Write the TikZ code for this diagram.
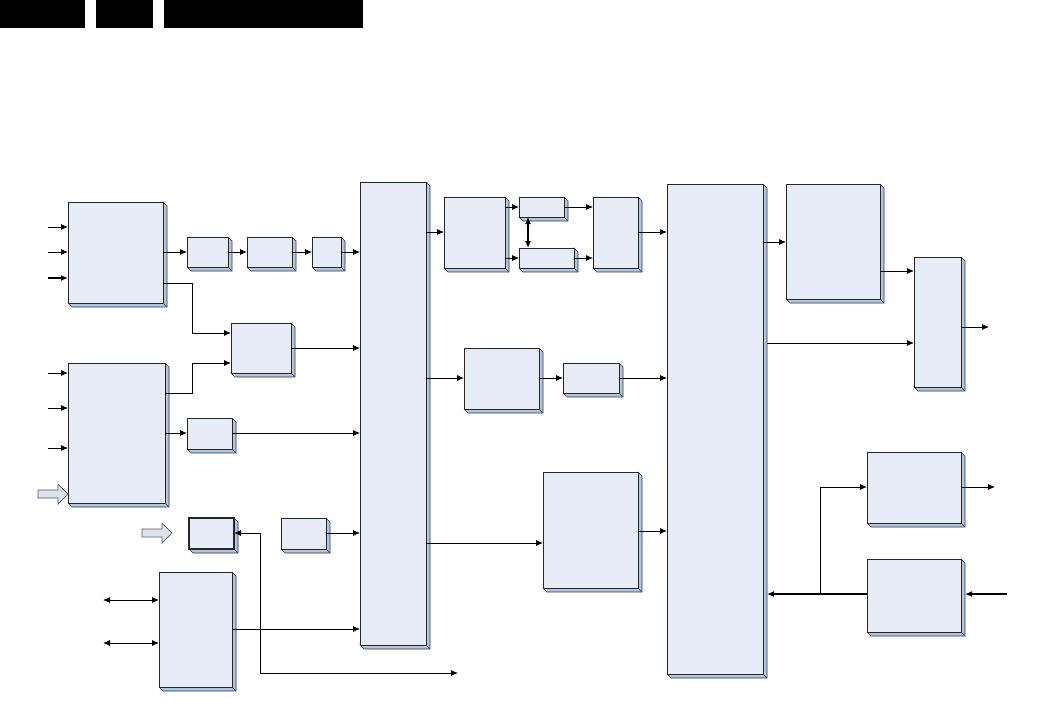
\documentclass[tikz,border=0pt]{standalone}
\usetikzlibrary{arrows.meta,calc}
\definecolor{facecol}{HTML}{E6EDF8}
\definecolor{sidecol}{HTML}{B2C6E3}
\definecolor{hollowcol}{HTML}{DCE3EE}
\tikzset{
  face/.style={draw=black!85, fill=facecol, line width=0.9pt, inner sep=0pt, outer sep=0pt},
  side/.style={draw=black!80, fill=sidecol, line width=0.6pt, line join=round},
  arr/.style={line width=0.8pt, -{Latex[length=7pt,width=6pt]}},
  darr/.style={line width=0.8pt, {Latex[length=7pt,width=6pt]}-{Latex[length=7pt,width=6pt]}},
  thk/.style={line width=1.6pt},
  ln/.style={line width=0.8pt},
  hollow/.style={draw=black!65, fill=hollowcol, line width=0.7pt, line join=miter},
  bar/.style={fill=black},
}
\newcommand{\tdbox}[6][]{%
  \draw[side] (#5,#4) -- (#5+4,#4+4) -- (#5+4,#6+4) -- (#3+4,#6+4) -- (#3,#6) -- cycle;
  \draw[side] (#5,#6) -- (#5+4,#6+4);
  \node[face,#1,anchor=north west,minimum width={(#5-#3)*1pt},minimum height={(#6-#4)*1pt}] (#2) at (#3,#4) {};
}
\begin{document}
\begin{tikzpicture}[x=1pt,y=-1pt]
\useasboundingbox (0,0) rectangle (1041,715);
% header bars
\fill[bar] (0,0) rectangle (85,28);
\fill[bar] (96,0) rectangle (153,28);
\fill[bar] (164,0) rectangle (363,28);

% boxes
\tdbox{A1}{68}{202}{163}{303}
\tdbox{A2}{68}{363}{165}{503}
\tdbox{B1}{187}{237}{228}{267}
\tdbox{B2}{247}{237}{292}{267}
\tdbox{B3}{312}{237}{341}{267}
\tdbox{C}{231}{323}{291}{373}
\tdbox{D}{187}{418}{232}{449}
\tdbox[line width=1.4pt]{E}{189}{518}{234}{549}
\tdbox{F}{281}{518}{326}{549}
\tdbox{G}{159}{572}{232}{687}
\tdbox{M1}{360}{182}{426}{645}
\tdbox{H}{444}{197}{505}{268}
\tdbox{I1}{519}{197}{564}{217}
\tdbox{I2}{519}{248}{574}{268}
\tdbox{J}{593}{197}{638}{268}
\tdbox{P}{464}{348}{539}{409}
\tdbox{Q}{563}{363}{619}{393}
\tdbox{R}{543}{472}{638}{588}
\tdbox{M2}{667}{184}{763}{674}
\tdbox{K}{786}{184}{880}{299}
\tdbox{N}{914}{257}{961}{387}
\tdbox{S}{867}{452}{961}{523}
\tdbox{T}{867}{559}{961}{632}

% inputs to A1
\draw[arr] (48,227) coordinate (a1i1) -- (A1.west |- a1i1);
\draw[arr] (48,252) coordinate (a1i2) -- (A1.west |- a1i2);
\draw[arr,thk] (48,278) coordinate (a1i3) -- (A1.west |- a1i3);
% inputs to A2
\draw[arr] (48,373) coordinate (a2i1) -- (A2.west |- a2i1);
\draw[arr] (48,408) coordinate (a2i2) -- (A2.west |- a2i2);
\draw[arr] (48,448) coordinate (a2i3) -- (A2.west |- a2i3);
% hollow arrows
\draw[hollow] (38,490) -- (58,490) -- (58,484) -- (68,494) -- (58,504) -- (58,498) -- (38,498) -- cycle;
\draw[hollow] (142,529) -- (162,529) -- (162,523) -- (172,533) -- (162,543) -- (162,537) -- (142,537) -- cycle;

% chain B
\draw[arr] (A1.east |- B1.west) -- (B1.west);
\draw[arr] (B1.east) -- (B2.west);
\draw[arr] (B2.east) -- (B3.west);
\draw[arr] (B3.east) -- (M1.west |- B3.east);
% A1 -> C, A2 -> C
\draw[arr] (A1.east |- 0,283) -- (192,283) -- (192,333) -- (C.west |- 0,333);
\draw[arr] (A2.east |- 0,393) -- (192,393) -- (192,363) -- (C.west |- 0,363);
\draw[arr] (C.east) -- (M1.west |- C.east);
% A2 -> D -> M1
\draw[arr] (A2.east |- 0,433) -- (D.west |- 0,433);
\draw[arr] (D.east |- 0,433) -- (M1.west |- 0,433);
% F -> M1
\draw[arr] (F.east |- 0,533) -- (M1.west |- 0,533);
% E <-> bottom line
\coordinate (eout) at (458,673);
\draw[darr] (E.east |- 0,533) -- (260,533) -- (260,673) -- (eout);
% G
\draw[darr] (103,600) coordinate (g1) -- (G.west |- g1);
\draw[darr] (103,643) coordinate (g2) -- (G.west |- g2);
\draw[arr] (G.east |- 0,629) -- (M1.west |- 0,629);

% M1 -> H, H -> I1/I2, I -> J -> M2
\draw[arr] (M1.east |- 0,232) -- (H.west |- 0,232);
\draw[arr] (H.east |- I1.west) -- (I1.west);
\draw[arr] (H.east |- I2.west) -- (I2.west);
\draw[darr,line width=1.3pt] (528,217) -- (528,248);
\draw[arr] (I1.east) -- (J.west |- I1.east);
\draw[arr] (I2.east) -- (J.west |- I2.east);
\draw[arr] (J.east |- 0,232) -- (M2.west |- 0,232);

% M1 -> P -> Q -> M2
\draw[arr] (M1.east |- 0,378) -- (P.west |- 0,378);
\draw[arr] (P.east |- 0,378) -- (Q.west |- 0,378);
\draw[arr] (Q.east |- 0,378) -- (M2.west |- 0,378);
% M1 -> R -> M2
\draw[arr] (M1.east |- 0,543) -- (R.west |- 0,543);
\draw[arr] (R.east |- 0,531) -- (M2.west |- 0,531);

% M2 -> K -> N, M2 -> N, N out
\draw[arr] (M2.east |- 0,242) -- (K.west |- 0,242);
\draw[arr] (K.east |- 0,271) -- (N.west |- 0,271);
\draw[arr] ($(M2.east |- 0,343)+(4,0)$) -- (N.west |- 0,343);
\coordinate (nout) at (989,327);
\draw[arr] (N.east |- nout) -- (nout);

% S, T
\coordinate (sout) at (995,487);
\draw[arr] (S.east |- sout) -- (sout);
\draw[arr] (820,594) -- (820,487) -- (S.west |- 0,487);
\draw[arr,thk] (T.west |- 0,594) -- ($(M2.east |- 0,594)+(4,0)$);
\coordinate (tin) at (1007,594);
\draw[arr,thk] (tin) -- ($(T.east |- tin)+(4,0)$);
\end{tikzpicture}
\end{document}
